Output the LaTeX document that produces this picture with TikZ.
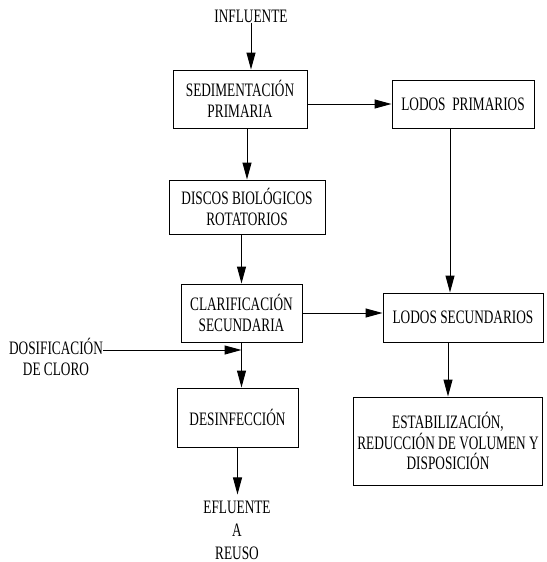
\documentclass[tikz,border=0pt]{standalone}
\usepackage{fontspec}
\setmainfont[FakeStretch=0.7]{Liberation Serif}
\usetikzlibrary{arrows.meta}
\begin{document}
\begin{tikzpicture}[x=1pt,y=-1pt,
  every node/.style={font=\fontsize{19}{20.5}\selectfont, align=center, inner sep=0pt},
  stage/.style={draw, line width=1pt},
  flow/.style={draw, line width=1pt, -{Triangle[length=17pt,width=9pt]}},
  label/.style={}]
\useasboundingbox (0,0) rectangle (546,562);

% process stages
\node[stage, minimum width=134pt, minimum height=58pt] (sed) at (240,99) {SEDIMENTACIÓN\\PRIMARIA};
\node[stage, minimum width=156pt, minimum height=54pt] (dis) at (247,207) {DISCOS BIOLÓGICOS\\ROTATORIOS};
\node[stage, minimum width=121pt, minimum height=58pt] (cla) at (241.5,313) {CLARIFICACIÓN\\SECUNDARIA};
\node[stage, minimum width=121pt, minimum height=59pt] (des) at (237.5,417.5) {DESINFECCIÓN};
\node[stage, minimum width=142pt, minimum height=48pt] (lp) at (463,104) {LODOS\ \ PRIMARIOS};
\node[stage, minimum width=160pt, minimum height=49pt] (ls) at (463,317.5) {LODOS SECUNDARIOS};
\node[stage, minimum width=189pt, minimum height=88pt] (est) at (448,441) {ESTABILIZACIÓN,\\REDUCCIÓN DE VOLUMEN Y\\DISPOSICIÓN};

% inputs and outputs
\node[label] (inf) at (251,16) {INFLUENTE};
\node[label] (dos) at (56,357) {DOSIFICACIÓN\\DE CLORO};
\node[label, font=\fontsize{19}{23}\selectfont] (eff) at (237,530) {EFLUENTE\\A\\REUSO};

% water line
\draw[flow] (inf.south) -- (inf.south |- sed.north);
\draw[flow] (dis.north |- sed.south) -- (dis.north);
\draw[flow] (cla.north |- dis.south) -- (cla.north);
\draw[flow] (cla.south) -- (cla.south |- des.north);
\draw[flow] (des.south) -- ([yshift=6pt]eff.north -| des.south);

% chlorine dosing
\draw[flow] ([yshift=7pt]dos.east) -- ([yshift=7pt]dos.east -| cla.south);

% sludge line
\draw[flow] (sed.east |- lp.west) -- (lp.west);
\draw[flow] (cla.east) -- (cla.east -| ls.west);
\draw[flow] ([xshift=-13pt]lp.south) -- ([xshift=-13pt]lp.south |- ls.north);
\draw[flow] (est.north |- ls.south) -- (est.north);
\end{tikzpicture}
\end{document}
